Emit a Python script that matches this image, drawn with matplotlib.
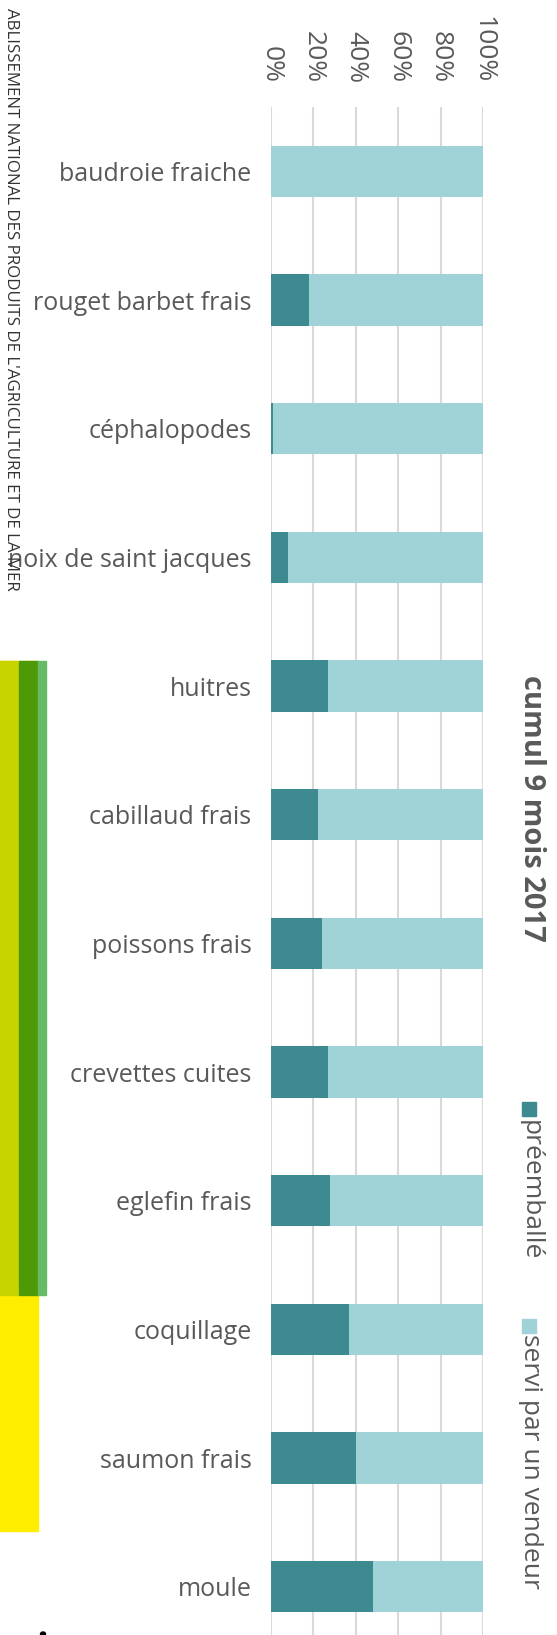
import numpy as np
import matplotlib.pyplot as plt
from matplotlib.patches import Rectangle, Ellipse

plt.rcParams['font.family'] = ['Open Sans', 'DejaVu Sans']

categories = ['baudroie fraiche', 'rouget barbet frais', 'céphalopodes',
              'noix de saint jacques', 'huitres', 'cabillaud frais',
              'poissons frais', 'crevettes cuites', 'eglefin frais',
              'coquillage', 'saumon frais', 'moule']
preemballe = [0, 18, 1, 8, 27, 22, 24, 27, 28, 37, 40, 48]
servi = [100 - v for v in preemballe]
ticks = [0, 20, 40, 60, 80, 100]

c_pre = '#3D8B91'
c_servi = '#A0D3D8'
c_text = '#595959'

W, H = 557, 1635
fig = plt.figure(figsize=(W / 100, H / 100), dpi=100)

def fx(px):
    return px / W

def fy(py):
    return 1 - py / H

ax = fig.add_axes([fx(271), fy(1651), fx(483) - fx(271), fy(107) - fy(1651)])
y = np.arange(len(categories))
ax.barh(y, preemballe, height=0.4, color=c_pre)
ax.barh(y, servi, left=preemballe, height=0.4, color=c_servi)
ax.set_ylim(len(categories) - 0.5, -0.5)
ax.set_xlim(0, 100)
ax.set_yticks(y)
ax.set_yticklabels(categories)
ax.xaxis.tick_top()
ax.set_xticks(ticks)
ax.set_xticklabels([f'{t}%' for t in ticks], rotation=-90)
ax.tick_params(axis='x', length=0, pad=17, labelsize=19, labelcolor=c_text)
ax.tick_params(axis='y', length=0, pad=14, labelsize=18, labelcolor=c_text)
ax.grid(axis='x', color='#D9D9D9', linewidth=1.5)
ax.set_axisbelow(True)
for s in ax.spines.values():
    s.set_visible(False)

# titre et legende, ecrits verticalement
fig.text(fx(532), fy(808), 'cumul 9 mois 2017', rotation=-90, ha='center',
         va='center', fontsize=21, fontweight='bold', color=c_text)
fig.patches.append(Rectangle((fx(522), fy(1116)), fx(14), 14 / H,
                             transform=fig.transFigure, color=c_pre))
fig.text(fx(530), fy(1120), 'préemballé', rotation=-90, ha='center', va='top',
         fontsize=19, color=c_text)
fig.patches.append(Rectangle((fx(522), fy(1333)), fx(14), 14 / H,
                             transform=fig.transFigure, color=c_servi))
fig.text(fx(530), fy(1334), 'servi par un vendeur', rotation=-90, ha='center',
         va='top', fontsize=19, color=c_text)

# bandeau de gauche
fig.text(fx(11), fy(591),
         "ABLISSEMENT NATIONAL DES PRODUITS DE L'AGRICULTURE ET DE LA MER",
         rotation=-90, ha='center', va='bottom', fontsize=12.2, color='#333333')
bandes = [(0, 661, 38, 1531, '#FFED00'),
          (0, 661, 19, 1295, '#C8D400'),
          (19, 661, 38, 1295, '#4E9A06'),
          (38, 661, 46, 1295, '#66BB66')]
for x0, y0, x1, y1, c in bandes:
    fig.patches.append(Rectangle((fx(x0), fy(y1)), fx(x1 - x0), (y1 - y0) / H,
                                 transform=fig.transFigure, color=c, zorder=0))
fig.patches.append(Ellipse((fx(43), fy(1634)), fx(5), 4 / H,
                           transform=fig.transFigure, color='black'))

fig.savefig('out.png', dpi=100)
